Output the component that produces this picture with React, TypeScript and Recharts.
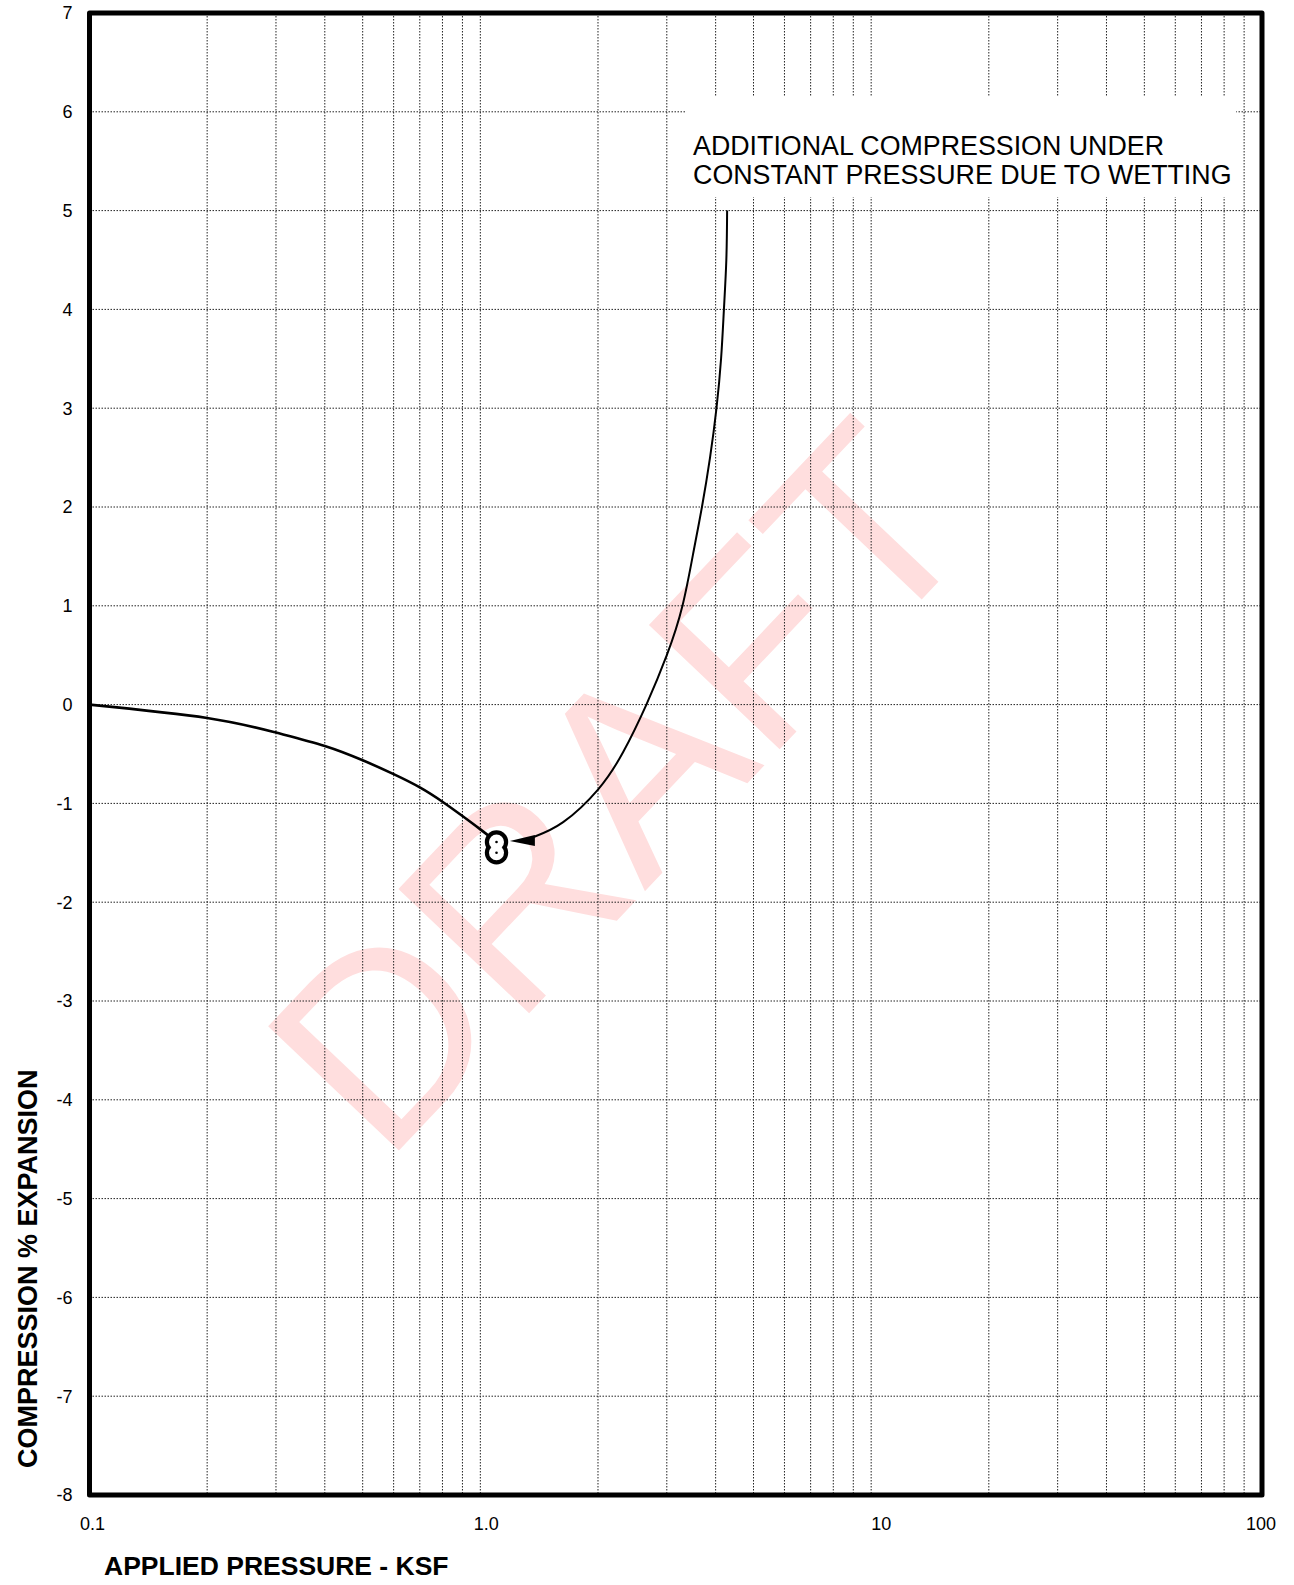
import React from 'react';
import { ComposedChart, Line, Scatter, XAxis, YAxis, CartesianGrid, ReferenceArea } from 'recharts';

// Loading curve (applied pressure ksf, % strain)
const loadPressure = [0.1, 0.2, 0.3, 0.4, 0.5, 0.6, 0.7, 0.8, 0.9, 1.0, 1.1];
const loadStrain = [0, -0.135, -0.283, -0.418, -0.563, -0.704, -0.838, -0.983, -1.128, -1.263, -1.39];

// Test points (before / after wetting)
const testPressure = [1.1, 1.1];
const testStrain = [-1.39, -1.5];

// Annotation leader curve
const wetPressure = [4.28, 4.26, 4.2, 4.13, 4.02, 3.87, 3.69, 3.52, 3.29, 3.0, 2.66, 2.32, 2.0, 1.629, 1.37];
const wetStrain = [5.0, 4.5, 4.0, 3.5, 3.0, 2.5, 2.0, 1.57, 1.0, 0.5, 0.0, -0.48, -0.86, -1.19, -1.34];
const arrowPressure = [1.19];
const arrowStrain = [-1.38];

// Axes
const gridX = [0.1, 0.2, 0.3, 0.4, 0.5, 0.6, 0.7, 0.8, 0.9, 1, 2, 3, 4, 5, 6, 7, 8, 9, 10, 20, 30, 40, 50, 60, 70, 80, 90, 100];
const xLabelValues = [0.1, 1, 10, 100];
const xLabelTexts = ['0.1', '1.0', '10', '100'];
const yTicks = [-8, -7, -6, -5, -4, -3, -2, -1, 0, 1, 2, 3, 4, 5, 6, 7];
const xDomain = [0.1, 100];
const yDomain = [-8, 7];

const noteLines = ['ADDITIONAL COMPRESSION UNDER', 'CONSTANT PRESSURE DUE TO WETTING'];
const noteBoxX = [3.36, 85.9];
const noteBoxY = [5.138, 6.15];

const xTitle = 'APPLIED PRESSURE - KSF';
const yTitle = 'COMPRESSION % EXPANSION';
const watermark = 'DRAFT';

// styling: small horizontal nudges of the decade labels, as in the original drawing
const xLabelNudge = [3, 6, 10, -1];

const FONT = '"Liberation Sans", Arial, Helvetica, sans-serif';

const zip = (xs: number[], ys: number[]) => xs.map((p, i) => ({ p, s: ys[i] }));
const loadData = zip(loadPressure, loadStrain);
const testData = zip(testPressure, testStrain);
const wetData = zip(wetPressure, wetStrain);
const arrowData = zip(arrowPressure, arrowStrain);

const labelIndex = (v: number) => xLabelValues.findIndex((d) => Math.abs(d - v) < 1e-9);

const XTick = (props: any) => {
  const { x, y, payload } = props;
  const i = labelIndex(payload.value);
  if (i < 0) return <g />;
  return (
    <text x={x + xLabelNudge[i]} y={y} dy="0.71em" textAnchor="middle" fontSize={18} fontFamily={FONT} fill="#000">
      {xLabelTexts[i]}
    </text>
  );
};

const RingOuter = (props: any) => <circle cx={props.cx} cy={props.cy} r={11.7} fill="#000" />;
const RingInner = (props: any) => (
  <g>
    <circle cx={props.cx} cy={props.cy} r={7.5} fill="#fff" />
    <circle cx={props.cx} cy={props.cy} r={1.3} fill="#000" />
  </g>
);
const ArrowHead = (props: any) => {
  const { cx, cy } = props;
  return <polygon points={`${cx},${cy} ${cx + 25},${cy - 6} ${cx + 25},${cy + 5}`} fill="#000" />;
};

export default function App() {
  return (
    <div style={{ position: 'absolute', left: 0, top: 0, width: 1294, height: 1585, background: '#fff' }}>
      <svg width={1294} height={1585} style={{ position: 'absolute', left: 0, top: 0 }}>
        <text
          x={619}
          y={787}
          transform="rotate(-46.5 619 787)"
          textAnchor="middle"
          dominantBaseline="central"
          fontSize={262}
          fontFamily={FONT}
          fill="#ffdede"
        >
          {watermark}
        </text>
      </svg>
      <div style={{ position: 'absolute', left: 0, top: 0 }}>
        <ComposedChart
          width={1294}
          height={1585}
          margin={{ top: 13, right: 32, bottom: 0, left: 0 }}
          style={{ fontFamily: FONT }}
        >
          <CartesianGrid stroke="#222" strokeDasharray="1.5 1.5" strokeWidth={1} />
          <XAxis
            type="number"
            dataKey="p"
            scale="log"
            domain={xDomain}
            allowDataOverflow
            ticks={gridX}
            interval={0}
            axisLine={false}
            tickLine={false}
            tickSize={6}
            tickMargin={16}
            height={90}
            tick={XTick}
            label={{
              content: (p: any) => {
                const vb = p.viewBox;
                return (
                  <text x={vb.x + 14.5} y={vb.y + 80} fontSize={26.5} fontWeight="bold" fontFamily={FONT} fill="#000">
                    {xTitle}
                  </text>
                );
              },
            }}
          />
          <YAxis
            type="number"
            dataKey="s"
            domain={yDomain}
            ticks={yTicks}
            interval={0}
            axisLine={false}
            tickLine={false}
            tickSize={6}
            tickMargin={11}
            width={89.5}
            tick={{ fontSize: 18, fill: '#000', fontFamily: FONT }}
            label={{
              content: (p: any) => {
                const vb = p.viewBox;
                const x = vb.x + 37;
                const y = vb.y + vb.height - 27;
                return (
                  <text
                    x={x}
                    y={y}
                    transform={`rotate(-90 ${x} ${y})`}
                    fontSize={27}
                    fontWeight="bold"
                    fontFamily={FONT}
                    fill="#000"
                  >
                    {yTitle}
                  </text>
                );
              },
            }}
          />
          <ReferenceArea
            x1={noteBoxX[0]}
            x2={noteBoxX[1]}
            y1={noteBoxY[0]}
            y2={noteBoxY[1]}
            fill="#fff"
            fillOpacity={1}
            stroke="none"
            label={{
              content: (p: any) => {
                const vb = p.viewBox;
                return (
                  <text fontSize={26.8} fontFamily={FONT} fill="#000">
                    {noteLines.map((t, i) => (
                      <tspan key={i} x={vb.x + 7} y={vb.y + 58 + i * 29.3}>
                        {t}
                      </tspan>
                    ))}
                  </text>
                );
              },
            }}
          />
          <ReferenceArea
            x1={xDomain[0]}
            x2={xDomain[1]}
            y1={yDomain[0]}
            y2={yDomain[1]}
            fill="none"
            stroke="#000"
            strokeWidth={5}
            strokeLinejoin="round"
          />
          <Line
            data={loadData}
            dataKey="s"
            type="natural"
            stroke="#000"
            strokeWidth={2.6}
            dot={false}
            activeDot={false}
            isAnimationActive={false}
          />
          <Line
            data={wetData}
            dataKey="s"
            type="natural"
            stroke="#000"
            strokeWidth={2}
            dot={false}
            activeDot={false}
            isAnimationActive={false}
          />
          <Scatter data={testData} dataKey="s" shape={RingOuter} isAnimationActive={false} />
          <Scatter data={testData} dataKey="s" shape={RingInner} isAnimationActive={false} />
          <Scatter data={arrowData} dataKey="s" shape={ArrowHead} isAnimationActive={false} />
        </ComposedChart>
      </div>
    </div>
  );
}
